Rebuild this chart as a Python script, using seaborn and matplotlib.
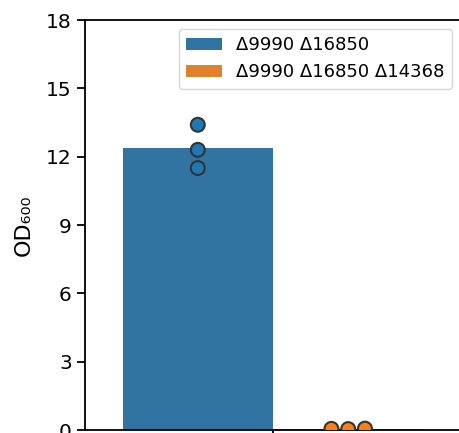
import matplotlib
matplotlib.use("Agg")
import matplotlib.pyplot as plt
import seaborn as sns
import pandas as pd

strains = ["Δ9990 Δ16850", "Δ9990 Δ16850 Δ14368"]
od_strain1 = [13.4, 12.3, 11.5]
od_strain2 = [0.05, 0.04, 0.06]
condition = "OD"
ylabel = "OD₆₀₀"
yticks = [0, 3, 6, 9, 12, 15, 18]

df = pd.DataFrame({
    "cond": [condition] * 6,
    "strain": [strains[0]] * 3 + [strains[1]] * 3,
    "od": od_strain1 + od_strain2,
})

plt.rcParams["font.family"] = ["DejaVu Sans"]
fig = plt.figure(figsize=(4.6, 4.33), dpi=100)
ax = fig.add_axes([85 / 460, 3 / 433, 376 / 460, 410 / 433])

sns.barplot(data=df, x="cond", y="od", hue="strain", errorbar=None, ax=ax,
            hue_order=strains)
sns.swarmplot(data=df, x="cond", y="od", hue="strain", dodge=True, ax=ax,
              hue_order=strains, size=10, edgecolor="#333333", linewidth=1.5,
              legend=False)

ax.set_ylim(0, 18)
ax.set_yticks(yticks)
ax.set_xlabel("")
ax.set_xticklabels([])
ax.set_ylabel(ylabel, fontsize=16, labelpad=9)
ax.tick_params(axis="y", labelsize=14.5, length=6, width=1.3)
ax.tick_params(axis="x", length=6, width=1.3)
for s in ax.spines.values():
    s.set_linewidth(1.3)

leg = ax.legend(loc="upper right", fontsize=13)

fig.savefig("out.png", dpi=100)
